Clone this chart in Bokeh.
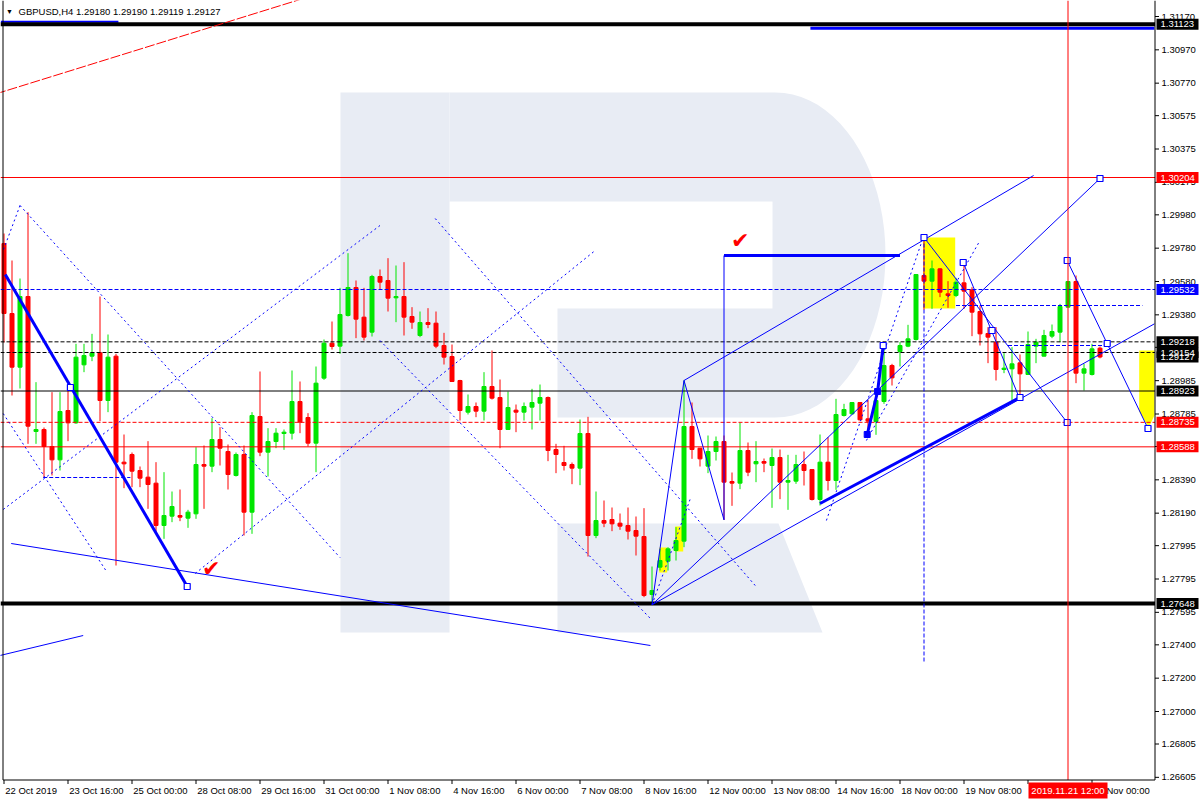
import math
from bokeh.plotting import figure
from bokeh.models import Range1d
from bokeh.embed import file_html
from bokeh.resources import INLINE
from bokeh.core.properties import value

# ---------------- data (GBPUSD H4, bar index 0 = 22 Oct 2019 08:00) ----------------
opens = [1.29808, 1.29388, 1.29066, 1.29490, 1.28680, 1.28692, 1.28590, 1.28510, 1.28806, 1.28732,
         1.29080, 1.29132, 1.29152, 1.28866, 1.29132, 1.28496, 1.28542, 1.28446, 1.28406, 1.28370,
         1.28116, 1.28172, 1.28176, 1.28160, 1.28186, 1.28482, 1.28472, 1.28632, 1.28560, 1.28416,
         1.28542, 1.28196, 1.28770, 1.28556, 1.28620, 1.28668, 1.28670, 1.28860, 1.28764, 1.28610,
         1.29000, 1.29210, 1.29192, 1.29376, 1.29544, 1.29366, 1.29276, 1.29610, 1.29586, 1.29482,
         1.29490, 1.29370, 1.29256, 1.29334, 1.29330, 1.29196, 1.29130, 1.28986, 1.28796, 1.28830,
         1.28802, 1.28950, 1.28884, 1.28692, 1.28808, 1.28796, 1.28826, 1.28850, 1.28884, 1.28572,
         1.28494, 1.28482, 1.28460, 1.28668, 1.28056, 1.28146, 1.28152, 1.28130, 1.28116, 1.28086,
         1.28050, 1.27702, 1.27866, 1.27902, 1.27966, 1.28022, 1.28710, 1.28580, 1.28472, 1.28560,
         1.28620, 1.28380, 1.28370, 1.28566, 1.28486, 1.28500, 1.28476, 1.28524, 1.28376, 1.28382,
         1.28482, 1.28452, 1.28272, 1.28496, 1.28386, 1.28776, 1.28786, 1.28854, 1.28756, 1.28740,
         1.28860, 1.29076, 1.29160, 1.29192, 1.29232, 1.29616, 1.29582, 1.29656, 1.29506, 1.29496,
         1.29572, 1.29530, 1.29400, 1.29268, 1.29216, 1.29052, 1.29056, 1.29092, 1.29022, 1.29192,
         1.29132, 1.29252, 1.29276, 1.29426, 1.29580, 1.29030, 1.29022, 1.29180]
highs = [1.29868, 1.29706, 1.29598, 1.29996, 1.28976, 1.28704, 1.28916, 1.28916, 1.28946, 1.29206,
         1.29206, 1.29266, 1.29490, 1.29262, 1.29146, 1.28662, 1.28554, 1.28470, 1.28622, 1.28496,
         1.28436, 1.28320, 1.28332, 1.28210, 1.28586, 1.28596, 1.28760, 1.28706, 1.28602, 1.28554,
         1.28596, 1.28796, 1.29040, 1.28700, 1.28700, 1.28692, 1.29046, 1.28980, 1.28790, 1.29070,
         1.29232, 1.29340, 1.29542, 1.29750, 1.29586, 1.29542, 1.29620, 1.29652, 1.29720, 1.29676,
         1.29696, 1.29426, 1.29400, 1.29420, 1.29400, 1.29272, 1.29202, 1.28990, 1.28902, 1.28854,
         1.29036, 1.29166, 1.28992, 1.28920, 1.28842, 1.28854, 1.28936, 1.28962, 1.28890, 1.28606,
         1.28594, 1.28494, 1.28752, 1.28768, 1.28320, 1.28266, 1.28224, 1.28188, 1.28224, 1.28170,
         1.28220, 1.27870, 1.27976, 1.27986, 1.28106, 1.28986, 1.28854, 1.28580, 1.28656, 1.28650,
         1.28656, 1.28434, 1.28732, 1.28614, 1.28622, 1.28518, 1.28578, 1.28572, 1.28540, 1.28540,
         1.28560, 1.28452, 1.28662, 1.28646, 1.28876, 1.28846, 1.28854, 1.28854, 1.28870, 1.28926,
         1.29196, 1.29086, 1.29216, 1.29320, 1.29622, 1.29836, 1.29706, 1.29660, 1.29582, 1.29602,
         1.29696, 1.29546, 1.29436, 1.29306, 1.29306, 1.29150, 1.29186, 1.29142, 1.29280, 1.29236,
         1.29290, 1.29322, 1.29446, 1.29580, 1.29616, 1.29086, 1.29206, 1.29190]
lows = [1.29214, 1.28896, 1.28938, 1.28606, 1.28606, 1.28406, 1.28416, 1.28446, 1.28622, 1.28726,
        1.29036, 1.29102, 1.28742, 1.28796, 1.27876, 1.28340, 1.28346, 1.28346, 1.28216, 1.28076,
        1.28036, 1.28136, 1.28142, 1.28102, 1.28156, 1.28216, 1.28436, 1.28476, 1.28332, 1.28410,
        1.28056, 1.28066, 1.28532, 1.28410, 1.28580, 1.28570, 1.28632, 1.28670, 1.28590, 1.28436,
        1.28990, 1.29172, 1.29146, 1.29370, 1.29240, 1.29226, 1.29250, 1.29530, 1.29400, 1.29336,
        1.29256, 1.29296, 1.29246, 1.29300, 1.29180, 1.29082, 1.28980, 1.28746, 1.28782, 1.28766,
        1.28746, 1.28872, 1.28580, 1.28692, 1.28676, 1.28746, 1.28692, 1.28746, 1.28502, 1.28430,
        1.28446, 1.28364, 1.28358, 1.27930, 1.28040, 1.28106, 1.28082, 1.28090, 1.28032, 1.27936,
        1.27686, 1.27640, 1.27846, 1.27846, 1.27906, 1.27986, 1.28516, 1.28470, 1.28430, 1.28506,
        1.28150, 1.28234, 1.28334, 1.28412, 1.28376, 1.28436, 1.28222, 1.28274, 1.28210, 1.28366,
        1.28356, 1.28266, 1.28236, 1.28326, 1.28330, 1.28770, 1.28782, 1.28746, 1.28666, 1.28660,
        1.28846, 1.28956, 1.29070, 1.29186, 1.29226, 1.29410, 1.29416, 1.29486, 1.29422, 1.29486,
        1.29416, 1.29252, 1.29196, 1.29090, 1.28986, 1.29030, 1.28862, 1.28876, 1.29020, 1.29090,
        1.29130, 1.29240, 1.29216, 1.29426, 1.28970, 1.28926, 1.29016, 1.29119]
closes = [1.29388, 1.29066, 1.29490, 1.28712, 1.28692, 1.28590, 1.28510, 1.28800, 1.28732, 1.29126,
          1.29136, 1.29152, 1.28866, 1.29126, 1.28496, 1.28486, 1.28442, 1.28400, 1.28362, 1.28116,
          1.28176, 1.28230, 1.28166, 1.28196, 1.28482, 1.28472, 1.28632, 1.28580, 1.28422, 1.28542,
          1.28196, 1.28776, 1.28556, 1.28620, 1.28670, 1.28676, 1.28860, 1.28736, 1.28610, 1.28970,
          1.29210, 1.29190, 1.29382, 1.29544, 1.29354, 1.29246, 1.29610, 1.29576, 1.29480, 1.29490,
          1.29366, 1.29336, 1.29334, 1.29322, 1.29192, 1.29126, 1.28980, 1.28806, 1.28830, 1.28802,
          1.28950, 1.28880, 1.28692, 1.28824, 1.28796, 1.28830, 1.28854, 1.28884, 1.28566, 1.28542,
          1.28476, 1.28460, 1.28668, 1.28056, 1.28146, 1.28130, 1.28126, 1.28112, 1.28082, 1.28052,
          1.27696, 1.27726, 1.27906, 1.27976, 1.28026, 1.28710, 1.28572, 1.28516, 1.28560, 1.28620,
          1.28376, 1.28370, 1.28566, 1.28436, 1.28500, 1.28490, 1.28524, 1.28376, 1.28386, 1.28482,
          1.28446, 1.28272, 1.28496, 1.28386, 1.28782, 1.28812, 1.28854, 1.28750, 1.28742, 1.28866,
          1.29076, 1.29002, 1.29196, 1.29236, 1.29622, 1.29582, 1.29656, 1.29516, 1.29496, 1.29576,
          1.29522, 1.29396, 1.29266, 1.29246, 1.29052, 1.29060, 1.29086, 1.29026, 1.29202, 1.29216,
          1.29256, 1.29280, 1.29430, 1.29580, 1.29030, 1.29056, 1.29176, 1.29127]

price_ticks = [1.31170, 1.30970, 1.30770, 1.30575, 1.30375, 1.30175, 1.29980, 1.29780, 1.29580,
               1.29380, 1.29185, 1.28985, 1.28785, 1.28590, 1.28390, 1.28190, 1.27995, 1.27795,
               1.27595, 1.27400, 1.27200, 1.27000, 1.26805, 1.26605]
time_bars = [0, 8, 16, 24, 32, 40, 48, 56, 64, 72, 80, 88, 96, 104, 112, 120, 128, 136]
time_labels = ["22 Oct 2019", "23 Oct 16:00", "25 Oct 00:00", "28 Oct 08:00", "29 Oct 16:00",
               "31 Oct 00:00", "1 Nov 08:00", "4 Nov 16:00", "6 Nov 00:00", "7 Nov 08:00",
               "8 Nov 16:00", "12 Nov 00:00", "13 Nov 08:00", "14 Nov 16:00", "18 Nov 00:00",
               "19 Nov 08:00", "20 Nov 16:00", "22 Nov 00:00"]
symbol_text = "GBPUSD,H4  1.29180 1.29190 1.29119 1.29127"
cursor_bar = 133
cursor_text = "2019.11.21 12:00"

# horizontal levels: price, colour, dash, width
level_prices = [1.31123, 1.30204, 1.29532, 1.29218, 1.29154, 1.28923, 1.28735, 1.28588, 1.27648]
level_colors = ["black", "#ff0000", "#0000ff", "black", "black", "black", "#ff0000", "#ff0000", "black"]
level_dashes = ["solid", "solid", "4 2", "4 2", "4 2", "solid", "4 2", "solid", "solid"]
level_widths = [4, 1, 1, 1, 1, 1, 1, 1, 4]
tag_prices = [1.31123, 1.30204, 1.29532, 1.29218, 1.29127, 1.29154, 1.28923, 1.28735, 1.28588, 1.27648]
tag_colors = ["black", "#ff0000", "#0000ff", "black", "black", "black", "black", "#ff0000", "#ff0000", "black"]

# analyst drawings (bar index, price)
thin_blue = [
    [(0.9, 1.28008), (80.8, 1.27396)],
    [(-0.5, 1.27336), (9.9, 1.27456)],
    [(81, 1.27640), (85, 1.28986), (90, 1.28150)],
    [(85, 1.28986), (128.7, 1.30216)],
    [(81, 1.27640), (137, 1.30198)],
    [(81, 1.27640), (143.8, 1.29326)],
    [(90, 1.28150), (90, 1.29736)],
    [(115, 1.29844), (132.9, 1.28734)],
    [(119.9, 1.29694), (126.9, 1.28884)],
    [(132.9, 1.29706), (143, 1.28698)],
]
thick_blue = [
    [(0.16, 1.29622), (22.9, 1.27750)],
    [(90, 1.29736), (112, 1.29736)],
    [(102, 1.28248), (127, 1.28884)],
    [(107.9, 1.28662), (109.2, 1.28920), (109.9, 1.29196)],
]
top_blue_right = [[(100.8, 1.31099), (143.8, 1.31099)]]
top_blue_left = [[(-0.4, 1.31138), (14.3, 1.31138)]]
dotted_blue = [
    [(-0.1, 1.28212), (47.0, 1.29916)],
    [(2.0, 1.30036), (42.0, 1.27924)],
    [(2.0, 1.30036), (-0.1, 1.29766)],
    [(-0.1, 1.28788), (12.9, 1.27834)],
    [(53.9, 1.29958), (93.9, 1.27756)],
    [(47.0, 1.29226), (80.8, 1.27558)],
    [(23.9, 1.27828), (73.9, 1.29766)],
    [(81, 1.27640), (85.8, 1.28278)],
    [(102.8, 1.28146), (114.9, 1.29844)],
    [(107.8, 1.28626), (122.0, 1.29826)],
]
dashed_blue = [
    [(4.9, 1.28404), (15.8, 1.28404)],
    [(119, 1.29436), (142.3, 1.29436)],
    [(125.5, 1.29196), (137.6, 1.29196)],
    [(115, 1.29844), (115, 1.27288)],
]
red_trend = [(-1, 1.30706), (37, 1.31272)]
open_squares = [(8.3, 1.28944), (22.9, 1.27750), (137, 1.30198), (127, 1.28884), (115, 1.29844),
                (132.9, 1.28734), (119.9, 1.29694), (123.5, 1.29286), (132.9, 1.29706),
                (143, 1.28698), (137.9, 1.29208), (109.9, 1.29196)]
filled_squares = [(107.9, 1.28662), (109.2, 1.28920)]
yellow_boxes = [(114.9, 118.9, 1.29418, 1.29844), (81.9, 82.9, 1.27834, 1.27984),
                (83.9, 84.9, 1.27960, 1.28110)]
yellow_target = [(141.9, 1.29166), (143.8, 1.29166), (143.8, 1.28776), (143.1, 1.28704),
                 (141.9, 1.28800)]
checks = [(25.9, 1.27858), (92.0, 1.29826)]

# ---------------- layout helpers (screen pixel -> chart space) ----------------
P_TOP = 1.31266       # price at the top edge of the window
P_PER_PX = 0.00006    # price per pixel
BAR_PX = 8.0          # pixels per bar
BAR0_PX = 3.5         # pixel column of bar 0


def bx(px):
    return (px - BAR0_PX) / BAR_PX


def py(pix):
    return P_TOP - pix * P_PER_PX


X0, X1 = bx(0), bx(1200)
Y0, Y1 = py(800), py(0)
AXIS_X = bx(1154.5)
BOTTOM_Y = py(779.5)
LEFT_X = bx(2.5)

GREEN, RED, BLUE = "#00e600", "#ff0000", "#0000ff"
FONT = "Liberation Sans"

p = figure(width=1200, height=800, x_range=Range1d(X0, X1), y_range=Range1d(Y0, Y1),
           x_axis_location=None, y_axis_location=None, output_backend="svg", toolbar_location=None,
           min_border_left=0, min_border_top=0, min_border_right=0, min_border_bottom=0,
           background_fill_color="white", border_fill_color="white")
p.xgrid.grid_line_color = None
p.ygrid.grid_line_color = None
p.outline_line_color = None

# watermark logo
bowl = [(449, 92), (775, 92)]
for k in range(0, 41):
    t = -math.pi / 2 + math.pi * k / 40
    bowl.append((775 + 110 * math.cos(t), 254.5 + 162.5 * math.sin(t)))
bowl += [(557, 417), (557, 308), (772, 308), (772, 201), (449, 201)]
logo = [[(340, 92), (449, 92), (449, 632), (340, 632)], bowl,
        [(557, 523), (778, 523), (822, 632), (557, 632)]]
p.patches([[bx(a) for a, b in poly] for poly in logo], [[py(b) for a, b in poly] for poly in logo],
          fill_color="#e8ecf4", line_color=None)

# yellow highlight boxes
p.quad(left=[b[0] for b in yellow_boxes], right=[b[1] for b in yellow_boxes],
       bottom=[b[2] for b in yellow_boxes], top=[b[3] for b in yellow_boxes],
       fill_color="#ffff00", line_color=None)
p.patch([a for a, b in yellow_target], [b for a, b in yellow_target], fill_color="#ffff00", line_color=None)

# candles
idx = list(range(len(opens)))
cols = [GREEN if c >= o else RED for o, c in zip(opens, closes)]
p.segment(x0=idx, y0=lows, x1=idx, y1=highs, line_color=cols, line_width=1)
p.vbar(x=idx, width=0.5, top=[max(o, c) for o, c in zip(opens, closes)],
       bottom=[min(o, c) for o, c in zip(opens, closes)], fill_color=cols, line_color=cols, line_width=1)


def ml(lines, **kw):
    p.multi_line([[a for a, b in ln] for ln in lines], [[b for a, b in ln] for ln in lines], **kw)


# level lines (stop at the price scale)
ml(top_blue_left, line_color=BLUE, line_width=2)
ml(top_blue_right, line_color=BLUE, line_width=3)
for pr, c, d, w in zip(level_prices, level_colors, level_dashes, level_widths):
    p.line([X0, AXIS_X], [pr, pr], line_color=c, line_dash=d, line_width=w)

# drawings
ml(thin_blue, line_color=BLUE, line_width=1)
ml(dotted_blue, line_color=BLUE, line_width=1, line_dash="2 3")
ml(dashed_blue, line_color=BLUE, line_width=1, line_dash="4 2")
ml(thick_blue, line_color=BLUE, line_width=3)
ml([red_trend], line_color=RED, line_width=1, line_dash="10 2")
p.scatter([a for a, b in open_squares], [b for a, b in open_squares], marker="square", size=6,
          fill_color="white", line_color=BLUE, line_width=1.2)
p.scatter([a for a, b in filled_squares], [b for a, b in filled_squares], marker="square", size=6,
          fill_color=BLUE, line_color=BLUE)
p.text(x=[c[0] for c in checks], y=[c[1] for c in checks], text=["\u2714"] * len(checks),
       text_color=RED, text_font_size=value("22px"), text_align="center", text_baseline="middle")

# crosshair
p.line([cursor_bar, cursor_bar], [BOTTOM_Y, Y1], line_color=RED, line_width=1)

# chart frame + price scale + time scale
p.line([LEFT_X, LEFT_X], [BOTTOM_Y, Y1], line_color="black", line_width=1)
p.line([LEFT_X, AXIS_X], [BOTTOM_Y, BOTTOM_Y], line_color="black", line_width=1)
p.line([AXIS_X, AXIS_X], [BOTTOM_Y, Y1], line_color="black", line_width=1)
p.segment(x0=[AXIS_X] * len(price_ticks), y0=price_ticks, x1=[bx(1158.5)] * len(price_ticks),
          y1=price_ticks, line_color="black", line_width=1)
p.text(x=[bx(1161)] * len(price_ticks), y=price_ticks, text=["%.5f" % t for t in price_ticks],
       text_font=value(FONT), text_font_size=value("9.5px"), text_color="black",
       text_align="left", text_baseline="middle")
p.segment(x0=time_bars, y0=[BOTTOM_Y] * len(time_bars), x1=time_bars, y1=[py(783.5)] * len(time_bars),
          line_color="black", line_width=1)
p.text(x=[b + 0.15 for b in time_bars], y=[py(790)] * len(time_bars), text=time_labels,
       text_font=value(FONT), text_font_size=value("9.5px"), text_color="black",
       text_align="left", text_baseline="middle")

# price tags
p.quad(left=[bx(1156)] * len(tag_prices), right=[bx(1198)] * len(tag_prices),
       bottom=[t - 5.5 * P_PER_PX for t in tag_prices], top=[t + 5.5 * P_PER_PX for t in tag_prices],
       fill_color=tag_colors, line_color=None)
p.text(x=[bx(1160)] * len(tag_prices), y=tag_prices, text=["%.5f" % t for t in tag_prices],
       text_font=value(FONT), text_font_size=value("9.5px"), text_color="white",
       text_align="left", text_baseline="middle")

# time tag of the cursor
p.quad(left=[cursor_bar - 39.5 / BAR_PX], right=[cursor_bar + 39.5 / BAR_PX], bottom=[py(798)],
       top=[py(782)], fill_color=RED, line_color=None)
p.text(x=[cursor_bar], y=[py(790)], text=[cursor_text], text_font=value(FONT),
       text_font_size=value("9.5px"), text_color="white", text_align="center", text_baseline="middle")

# header
p.text(x=[bx(9)], y=[py(11)], text=["\u25bc"], text_font_size=value("7px"), text_color="black",
       text_align="center", text_baseline="middle")
p.text(x=[bx(18)], y=[py(11)], text=[symbol_text], text_font=value(FONT),
       text_font_size=value("9.5px"), text_color="black", text_align="left", text_baseline="middle")

open("out.html", "w").write(file_html(p, INLINE))
